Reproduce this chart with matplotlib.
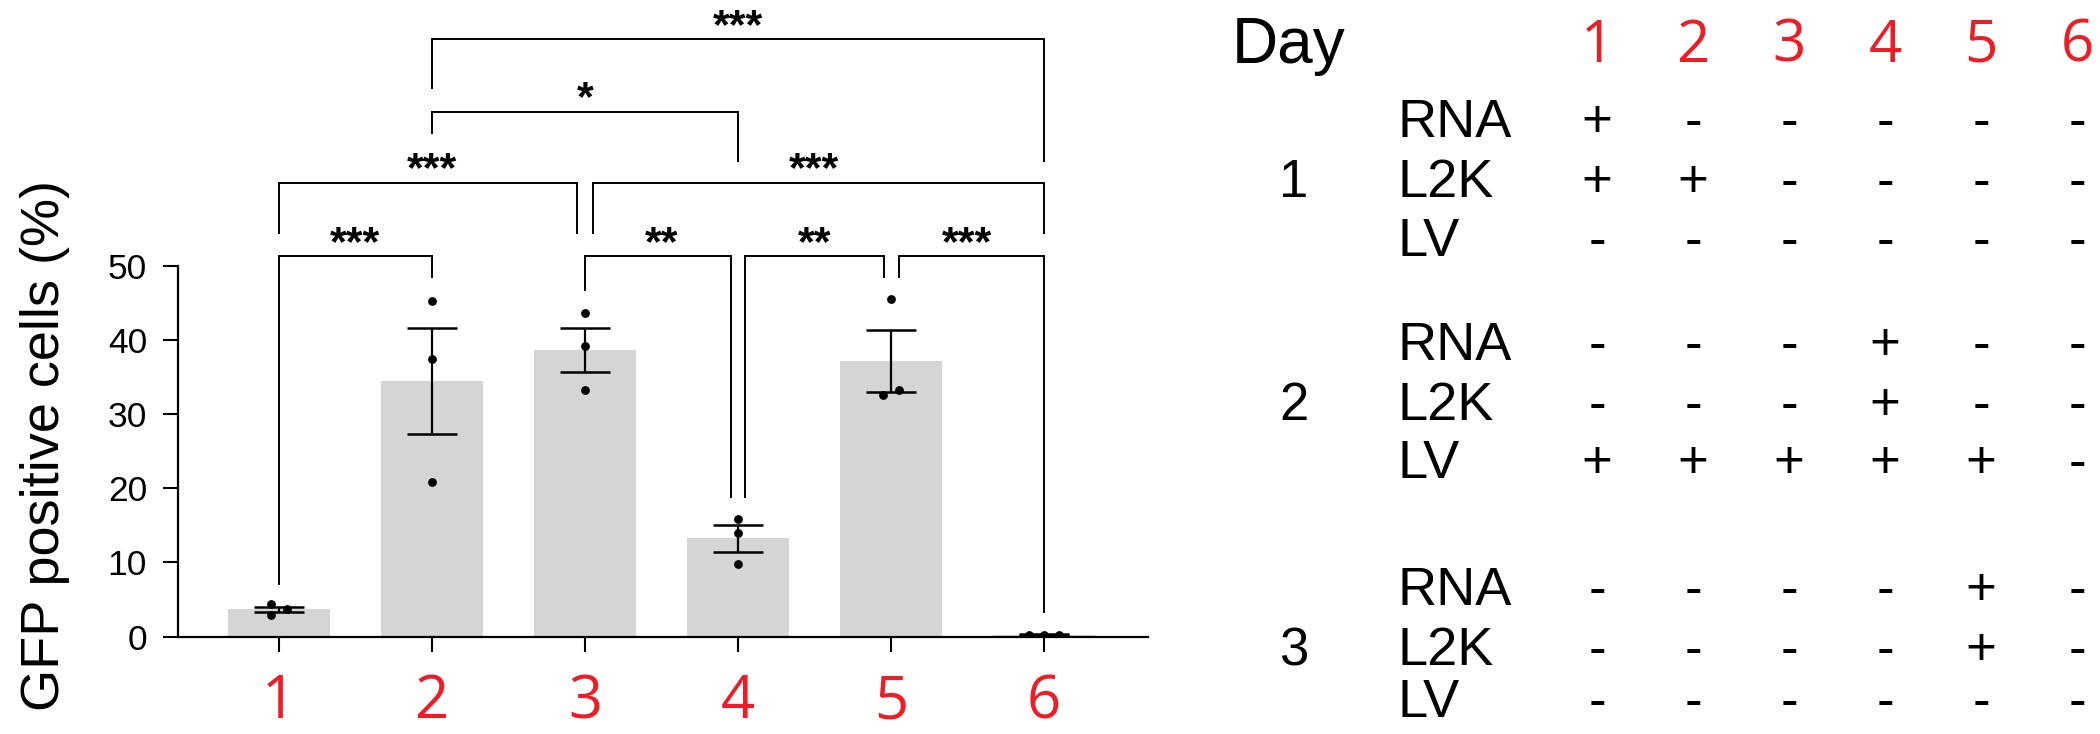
import matplotlib
matplotlib.use("Agg")
import matplotlib.pyplot as plt
from matplotlib import font_manager as fm

# ---------------- data ----------------
conditions = [1, 2, 3, 4, 5, 6]
cond_labels = ["1", "2", "3", "4", "5", "6"]
bar_means = [3.65, 34.5, 38.7, 13.25, 37.15, 0.22]
bar_sems = [0.37, 7.15, 3.0, 1.8, 4.2, 0.05]
points = [
    [4.35, 2.9, 3.7],
    [45.3, 37.4, 20.8],
    [43.7, 39.2, 33.2],
    [15.9, 14.0, 9.8],
    [45.5, 32.6, 33.2],
    [0.2, 0.25, 0.2],
]
# horizontal jitter of the replicate dots (layout)
point_dx = [
    [-0.05, -0.05, 0.05],
    [0, 0, 0],
    [0, 0, 0],
    [0, 0, 0],
    [0, -0.05, 0.05],
    [-0.1, 0, 0.1],
]
y_ticks = [0, 10, 20, 30, 40, 50]
y_label = "GFP positive cells (%)"

# significance comparisons
comp_left = [1, 3, 4, 5, 1, 3, 2, 2]
comp_right = [2, 4, 5, 6, 3, 6, 4, 6]
comp_text = ["***", "**", "**", "***", "***", "***", "*", "***"]
comp_level = [51.3, 51.3, 51.3, 51.3, 61.2, 61.2, 70.8, 80.6]
comp_leg_left = [7.1, 46.8, 18.8, 48.5, 54.4, 54.4, 67.9, 74.0]
comp_leg_right = [48.5, 18.8, 48.5, 3.3, 54.4, 54.4, 64.2, 64.2]
# small horizontal nudges where brackets share a bar (layout)
comp_nudge_left = [0, 0, 0.045, 0.05, 0, 0.05, 0, 0]
comp_nudge_right = [0, -0.045, -0.045, 0, -0.05, 0, 0, 0]

# treatment table
day_header = "Day"
group_labels = ["1", "2", "3"]
row_names = ["RNA", "L2K", "LV"]
table_signs = [
    [["+", "-", "-", "-", "-", "-"],
     ["+", "+", "-", "-", "-", "-"],
     ["-", "-", "-", "-", "-", "-"]],
    [["-", "-", "-", "+", "-", "-"],
     ["-", "-", "-", "+", "-", "-"],
     ["+", "+", "+", "+", "+", "-"]],
    [["-", "-", "-", "-", "+", "-"],
     ["-", "-", "-", "-", "+", "-"],
     ["-", "-", "-", "-", "-", "-"]],
]

# ---------------- style ----------------
RED = "#ee1c25"
BAR = "#d4d5d5"
SANS = ["Liberation Sans", "Arial", "DejaVu Sans"]
RED_FONT = ["Open Sans", "Liberation Sans", "DejaVu Sans"]
plt.rcParams["font.family"] = SANS

available = {f.name for f in fm.fontManager.ttflist}
if "Liberation Sans Narrow" in available:
    YLAB_FONT, YLAB_SIZE = ["Liberation Sans Narrow"], 46
else:
    YLAB_FONT, YLAB_SIZE = SANS, 39

W, H = 2100, 734
fig = plt.figure(figsize=(W / 100, H / 100), dpi=100)

ax_left_px, ax_right_px, ax_bottom_px = 178, 1148, 636.5
px_per_unit = 7.41
ax = fig.add_axes([ax_left_px / W, (H - ax_bottom_px) / H,
                   (ax_right_px - ax_left_px) / W, ax_bottom_px / H])
ax.patch.set_alpha(0)
ax.set_xlim(0.34, 6.68)
ax.set_ylim(0, ax_bottom_px / px_per_unit)

ax.bar(conditions, bar_means, width=0.67, color=BAR, zorder=1)
ax.errorbar(conditions, bar_means, yerr=bar_sems, fmt="none", ecolor="black",
            elinewidth=1.6, capsize=18, capthick=1.8, zorder=2)
for c, vals, dxs in zip(conditions, points, point_dx):
    ax.scatter([c + d for d in dxs], vals, s=40, color="black", zorder=3,
               linewidths=0)

for i in range(len(comp_text)):
    xl = comp_left[i] + comp_nudge_left[i]
    xr = comp_right[i] + comp_nudge_right[i]
    lv = comp_level[i]
    ax.plot([xl, xl, xr, xr], [comp_leg_left[i], lv, lv, comp_leg_right[i]],
            color="black", lw=1.4, solid_joinstyle="miter", zorder=2)
    ax.text((comp_left[i] + comp_right[i]) / 2, lv + 0.2, comp_text[i],
            ha="center", va="baseline", fontsize=31, fontweight="bold",
            color="black")

for s in ["top", "right"]:
    ax.spines[s].set_visible(False)
ax.spines["left"].set_bounds(0, 50)
ax.spines["left"].set_linewidth(1.6)
ax.spines["bottom"].set_linewidth(1.6)
ax.set_yticks(y_ticks)
ax.set_yticklabels([str(v) for v in y_ticks])
ax.set_xticks(conditions)
ax.set_xticklabels(cond_labels)
ax.tick_params(axis="both", direction="out", length=10.8, width=1.5)
ax.tick_params(axis="y", labelsize=25.5, pad=11.5)
ax.tick_params(axis="x", labelsize=43, pad=15, labelcolor=RED)
for lab in ax.get_xticklabels():
    lab.set_family(RED_FONT)

ax.set_ylabel(y_label, fontsize=YLAB_SIZE, va="center", family=YLAB_FONT)
ax.yaxis.set_label_coords(-0.137, 0.30)

# ---------------- table ----------------
col0_px, col_step_px = 1597, 96
tax = fig.add_axes([0, 0, 1, 1], zorder=-1)
tax.set_xlim(1 - col0_px / col_step_px, 1 + (W - col0_px) / col_step_px)
tax.set_ylim(H, 0)
tax.axis("off")

def col_x(px):
    return 1 + (px - col0_px) / col_step_px

header_baseline = 62
tax.text(col_x(1232), header_baseline + 1, day_header, fontsize=46,
         ha="left", va="baseline")
for c, lab in zip(conditions, cond_labels):
    tax.text(c, header_baseline, lab, fontsize=42, color=RED, ha="center",
             va="baseline", family=RED_FONT)

row_baselines = [[137, 197, 256], [360, 420, 478], [605, 665, 717]]
for g, glab in enumerate(group_labels):
    tax.text(col_x(1294), row_baselines[g][1], glab, fontsize=38,
             ha="center", va="baseline")
    for r, rname in enumerate(row_names):
        yb = row_baselines[g][r]
        tax.text(col_x(1397), yb, rname, fontsize=39, ha="left",
                 va="baseline")
        for c, sgn in zip(conditions, table_signs[g][r]):
            tax.text(c, yb, sgn, fontsize=38, ha="center", va="baseline")

fig.savefig("out.png", dpi=100)
